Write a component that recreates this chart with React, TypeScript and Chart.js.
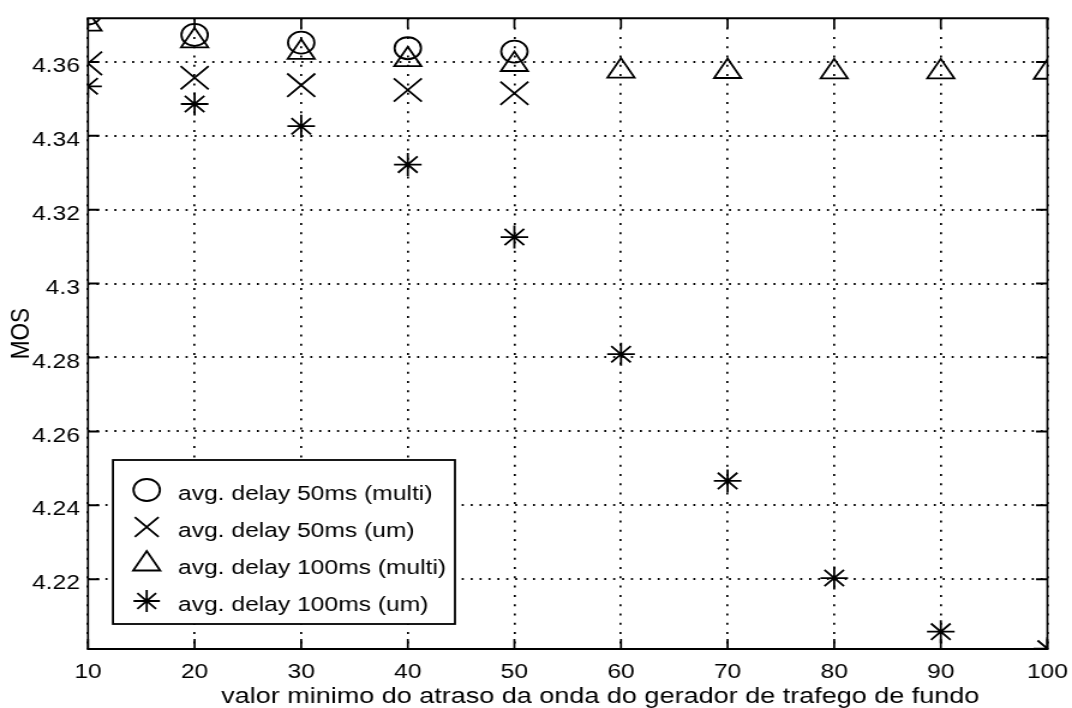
import React, { useEffect, useRef } from 'react';
import { Chart, registerables } from 'chart.js';

Chart.register(...registerables);

// ---- data ----
const xValues = [10, 20, 30, 40, 50, 60, 70, 80, 90, 100];
const delay50Multi = [4.3731, 4.3673, 4.3652, 4.3637, 4.3628, null, null, null, null, null];
const delay50Um = [4.3596, 4.3557, 4.3537, 4.3524, 4.3515, null, null, null, null, null];
const delay100Multi = [4.3702, 4.3657, 4.3626, 4.3606, 4.3593, 4.3575, 4.3574, 4.3573, 4.3573, 4.3572];
const delay100Um = [4.3534, 4.3486, 4.3426, 4.3322, 4.3126, 4.2809, 4.2466, 4.2203, 4.2058, 4.2012];

const seriesLabels = [
  'avg. delay 50ms (multi)',
  'avg. delay 50ms (um)',
  'avg. delay 100ms (multi)',
  'avg. delay 100ms (um)',
];

const xTickValues = [10, 20, 30, 40, 50, 60, 70, 80, 90, 100];
const yTickValues = [4.22, 4.24, 4.26, 4.28, 4.3, 4.32, 4.34, 4.36];
const yTickLabels = ['4.22', '4.24', '4.26', '4.28', '4.3', '4.32', '4.34', '4.36'];

const X_TITLE = 'valor minimo do atraso da onda do gerador de trafego de fundo';
const Y_TITLE = 'MOS';

const X_MIN = 10;
const X_MAX = 100;
const Y_MIN = 4.2011;
const Y_MAX = 4.3718;

// ---- layout / style ----
const W = 893; // logical canvas width (stretched to 1072 on screen)
const H = 708;
const DISPLAY_W = 1072;
const FONT_FAMILY = '"Liberation Sans", Arial, Helvetica, sans-serif';
const FONT_SIZE = 20.5;
const TITLE_FONT_SIZE = 22.5;

const markerStyles = [
  { style: 'circle', radius: 11, legendRadius: 11 },
  { style: 'crossRot', radius: 16.5, legendRadius: 14 },
  { style: 'triangle', radius: 13, legendRadius: 13 },
  { style: 'star', radius: 11.5, legendRadius: 11 },
];

function drawMarker(ctx: CanvasRenderingContext2D, style: string, x: number, y: number, r: number) {
  ctx.beginPath();
  if (style === 'circle') {
    ctx.arc(x, y, r, 0, Math.PI * 2);
  } else if (style === 'crossRot') {
    const d = r * Math.SQRT1_2;
    ctx.moveTo(x - d, y - d);
    ctx.lineTo(x + d, y + d);
    ctx.moveTo(x + d, y - d);
    ctx.lineTo(x - d, y + d);
  } else if (style === 'triangle') {
    for (let k = 0; k < 3; k++) {
      const a = (k * 2 * Math.PI) / 3;
      const px = x + Math.sin(a) * r;
      const py = y - Math.cos(a) * r;
      if (k === 0) ctx.moveTo(px, py);
      else ctx.lineTo(px, py);
    }
    ctx.closePath();
  } else if (style === 'star') {
    const d = r * Math.SQRT1_2;
    ctx.moveTo(x, y - r);
    ctx.lineTo(x, y + r);
    ctx.moveTo(x - r, y);
    ctx.lineTo(x + r, y);
    ctx.moveTo(x - d, y - d);
    ctx.lineTo(x + d, y + d);
    ctx.moveTo(x + d, y - d);
    ctx.lineTo(x - d, y + d);
  }
  ctx.stroke();
}

const frameLegendPlugin = {
  id: 'frameLegend',
  afterDraw(chart: any) {
    const ctx: CanvasRenderingContext2D = chart.ctx;
    const { left, right, top, bottom } = chart.chartArea;
    const xs = chart.scales.x;
    const ys = chart.scales.y;
    ctx.save();
    ctx.strokeStyle = '#000';
    ctx.lineCap = 'butt';
    // inward tick marks
    ctx.lineWidth = 1.7;
    xTickValues.forEach((v) => {
      const px = xs.getPixelForValue(v);
      ctx.beginPath();
      ctx.moveTo(px, bottom);
      ctx.lineTo(px, bottom - 10);
      ctx.moveTo(px, top);
      ctx.lineTo(px, top + 10);
      ctx.stroke();
    });
    ctx.lineWidth = 2;
    yTickValues.forEach((v) => {
      const py = ys.getPixelForValue(v);
      ctx.beginPath();
      ctx.moveTo(left, py);
      ctx.lineTo(left + 9.5, py);
      ctx.moveTo(right, py);
      ctx.lineTo(right - 9.5, py);
      ctx.stroke();
    });
    // frame
    ctx.lineWidth = 2;
    ctx.beginPath();
    ctx.moveTo(left - 1, top);
    ctx.lineTo(right + 1, top);
    ctx.moveTo(left - 1, bottom);
    ctx.lineTo(right + 1, bottom);
    ctx.stroke();
    ctx.lineWidth = 1.7;
    ctx.beginPath();
    ctx.moveTo(left, top);
    ctx.lineTo(left, bottom);
    ctx.moveTo(right, top);
    ctx.lineTo(right, bottom);
    ctx.stroke();

    // x-axis title (slightly right of the axes centre, as in the source figure)
    ctx.fillStyle = '#000';
    ctx.font = `${TITLE_FONT_SIZE}px ${FONT_FAMILY}`;
    ctx.textAlign = 'center';
    ctx.textBaseline = 'alphabetic';
    ctx.fillText(X_TITLE, 500, 703);

    // legend box
    const bx = 94.1;
    const by = 460;
    const bw = 379 - 94.1;
    const bh = 624 - 460;
    ctx.fillStyle = '#fff';
    ctx.fillRect(bx, by, bw, bh);
    ctx.lineWidth = 1.8;
    ctx.strokeRect(bx, by, bw, bh);
    ctx.font = `${FONT_SIZE}px ${FONT_FAMILY}`;
    ctx.fillStyle = '#000';
    ctx.textAlign = 'left';
    ctx.textBaseline = 'alphabetic';
    seriesLabels.forEach((label, i) => {
      const baseY = 500 + 37 * i;
      ctx.lineWidth = 1.8;
      drawMarker(ctx, markerStyles[i].style, 122.2, baseY - 10, markerStyles[i].legendRadius);
      ctx.fillText(label, 148.3, baseY);
    });
    ctx.restore();
  },
};

function toPoints(ys: (number | null)[]) {
  const pts: { x: number; y: number }[] = [];
  ys.forEach((y, i) => {
    if (y !== null) pts.push({ x: xValues[i], y });
  });
  return pts;
}

export default function App() {
  const canvasRef = useRef<HTMLCanvasElement | null>(null);

  useEffect(() => {
    const canvas = canvasRef.current;
    if (!canvas) return;
    const font = { family: FONT_FAMILY, size: FONT_SIZE };
    const series = [delay50Multi, delay50Um, delay100Multi, delay100Um];
    const chart = new Chart(canvas, {
      type: 'scatter',
      data: {
        datasets: series.map((s, i) => ({
          label: seriesLabels[i],
          data: toPoints(s),
          showLine: false,
          pointStyle: markerStyles[i].style as any,
          pointRadius: markerStyles[i].radius,
          pointHoverRadius: markerStyles[i].radius,
          pointBorderWidth: 1.8,
          pointHoverBorderWidth: 1.8,
          borderColor: '#000',
          backgroundColor: 'rgba(0,0,0,0)',
          pointBackgroundColor: 'rgba(0,0,0,0)',
          clip: 0,
        })),
      },
      options: {
        responsive: false,
        animation: false,
        devicePixelRatio: 1,
        events: [],
        layout: { padding: { left: 0, top: 10, right: 20.5, bottom: 0 } },
        plugins: {
          legend: { display: false },
          tooltip: { enabled: false },
        },
        scales: {
          x: {
            type: 'linear',
            min: X_MIN,
            max: X_MAX,
            afterBuildTicks: (scale: any) => {
              scale.ticks = xTickValues.map((v) => ({ value: v }));
            },
            afterFit: (scale: any) => {
              scale.height = 59;
              scale.paddingLeft = 0;
              scale.paddingRight = 0;
            },
            grid: { drawTicks: false, color: '#000', lineWidth: 1.7 },
            border: { display: false, dash: [2, 7.3] },
            ticks: {
              color: '#000',
              font,
              padding: 10.7,
              maxRotation: 0,
              autoSkip: false,
              callback: (v: any) => String(v),
            },
            title: { display: false, text: X_TITLE },
          },
          y: {
            type: 'linear',
            min: Y_MIN,
            max: Y_MAX,
            afterBuildTicks: (scale: any) => {
              scale.ticks = yTickValues.map((v) => ({ value: v }));
            },
            afterFit: (scale: any) => {
              scale.width = 73.3;
              scale.paddingTop = 0;
              scale.paddingBottom = 0;
            },
            grid: { drawTicks: false, color: '#000', lineWidth: 2 },
            border: { display: false, dash: [1.67, 5.75] },
            ticks: {
              color: '#000',
              font,
              padding: 6.7,
              labelOffset: 4.5,
              autoSkip: false,
              callback: (_v: any, i: number) => yTickLabels[i],
            },
            title: {
              display: true,
              text: Y_TITLE,
              color: '#000',
              font: { family: FONT_FAMILY, size: TITLE_FONT_SIZE },
              padding: { top: 4.5, bottom: 0 },
            },
          },
        },
      },
      plugins: [frameLegendPlugin],
    } as any);
    return () => chart.destroy();
  }, []);

  return (
    <div style={{ position: 'fixed', left: 0, top: 0, width: DISPLAY_W, height: H, background: '#fff' }}>
      <canvas
        ref={canvasRef}
        width={W}
        height={H}
        style={{ display: 'block', width: `${DISPLAY_W}px`, height: `${H}px` }}
      />
    </div>
  );
}
